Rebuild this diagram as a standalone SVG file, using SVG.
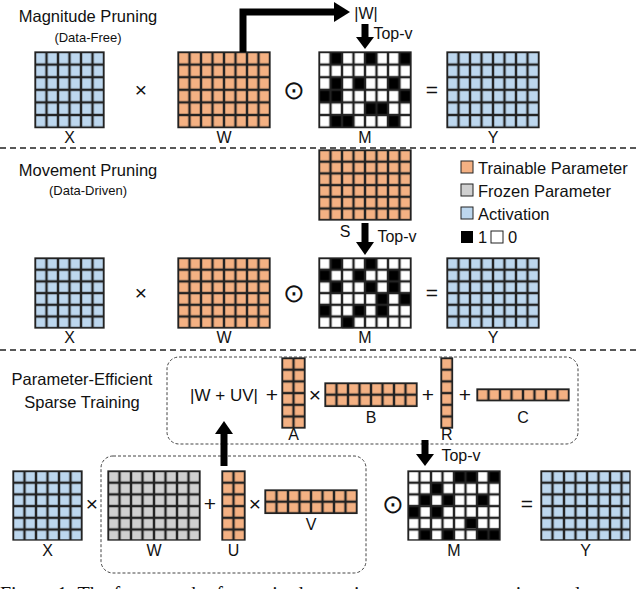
<svg xmlns="http://www.w3.org/2000/svg" width="640" height="589" viewBox="0 0 640 589">
<style>
text{font-family:"Liberation Sans",Arial,sans-serif;fill:#111}
.t{font-size:16.5px;text-anchor:middle}
.s{font-size:13px;text-anchor:middle}
.l{font-size:16px;text-anchor:middle}
.op{font-size:21px;text-anchor:middle}
.od{font-size:26px;text-anchor:middle}
.lg{font-size:16.5px}
.g{fill:none;stroke:#222;stroke-width:1.3}
.sep{stroke:#222;stroke-width:1.5;stroke-dasharray:6 4}
.box{fill:none;stroke:#444;stroke-width:1;stroke-dasharray:3 2}
.arr{stroke:#000;stroke-width:7;fill:none}
.b{fill:#bdd7ee}.o{fill:#f4b183}.y{fill:#d0d0d0}.w{fill:#fff}.k{fill:#000}
</style>
<defs>
<pattern id="p1" patternUnits="userSpaceOnUse" width="11.5" height="12.6"><rect width="11.5" height="12.6" fill="none" stroke="#222" stroke-width="2.4"/></pattern>
<pattern id="p2" patternUnits="userSpaceOnUse" width="11.5" height="11.7"><rect width="11.5" height="11.7" fill="none" stroke="#222" stroke-width="2.4"/></pattern>
</defs>
<g id="top">
<text class="t" x="88" y="22">Magnitude Pruning</text>
<text class="s" x="88" y="42">(Data-Free)</text>
<g id="X1" transform="translate(35,52)"><rect class="b" width="69" height="75.6"/><rect width="69" height="75.6" fill="url(#p1)"/><rect class="g" width="69" height="75.6"/><text class="l" x="34.5" y="91">X</text></g>
<text class="op" x="141" y="97">×</text>
<g id="W1" transform="translate(178,52)"><rect class="o" width="92" height="75.6"/><rect width="92" height="75.6" fill="url(#p1)"/><rect class="g" width="92" height="75.6"/><text class="l" x="46" y="91">W</text></g>
<text class="od" x="294" y="99">⊙</text>
<g id="M1" transform="translate(319,52)"><rect class="w" width="92" height="75.6"/>
<g class="k"><rect x="11.5" y="0" width="11.5" height="12.6"/><rect x="46" y="0" width="11.5" height="12.6"/><rect x="80.5" y="0" width="11.5" height="12.6"/>
<rect x="11.5" y="25.2" width="11.5" height="12.6"/><rect x="34.5" y="25.2" width="11.5" height="12.6"/><rect x="69" y="25.2" width="11.5" height="12.6"/>
<rect x="0" y="37.8" width="23" height="12.6"/><rect x="80.5" y="37.8" width="11.5" height="12.6"/>
<rect x="46" y="50.4" width="23" height="12.6"/>
<rect x="11.5" y="63" width="23" height="12.6"/><rect x="69" y="63" width="11.5" height="12.6"/></g>
<rect width="92" height="75.6" fill="url(#p1)"/><rect class="g" width="92" height="75.6"/><text class="l" x="46" y="91">M</text></g>
<text class="op" x="432" y="97">=</text>
<g id="Y1" transform="translate(447,52)"><rect class="b" width="92" height="75.6"/><rect width="92" height="75.6" fill="url(#p1)"/><rect class="g" width="92" height="75.6"/><text class="l" x="46" y="91">Y</text></g>
<text class="l" x="366" y="19">|W|</text>
<text class="l" x="393" y="39">Top-v</text>
</g>
<g id="mid">
<text class="t" x="88" y="176">Movement Pruning</text>
<text class="s" x="88" y="195">(Data-Driven)</text>
<g id="S" transform="translate(319,150)"><rect class="o" width="92" height="70"/><rect width="92" height="70" fill="url(#p2)"/><rect class="g" width="92" height="70"/></g>
<text class="l" x="345" y="237">S</text>
<text class="l" x="397" y="242">Top-v</text>
<g id="legend">
<rect class="o" x="461" y="161" width="12" height="12" stroke="#222"/><text class="lg" x="478" y="174">Trainable Parameter</text>
<rect class="y" x="461" y="184" width="12" height="12" stroke="#222"/><text class="lg" x="478" y="197">Frozen Parameter</text>
<rect class="b" x="461" y="207" width="12" height="12" stroke="#222"/><text class="lg" x="478" y="220">Activation</text>
<rect class="k" x="461" y="231" width="12" height="12"/><text class="lg" x="478" y="243">1</text>
<rect class="w" x="491" y="231" width="12" height="12" stroke="#222"/><text class="lg" x="508" y="243">0</text>
</g>
<g id="X2" transform="translate(35,258)"><rect class="b" width="69" height="70"/><rect width="69" height="70" fill="url(#p2)"/><rect class="g" width="69" height="70"/><text class="l" x="34.5" y="85">X</text></g>
<text class="op" x="141" y="300">×</text>
<g id="W2" transform="translate(178,258)"><rect class="o" width="92" height="70"/><rect width="92" height="70" fill="url(#p2)"/><rect class="g" width="92" height="70"/><text class="l" x="46" y="85">W</text></g>
<text class="od" x="294" y="302">⊙</text>
<g id="M2" transform="translate(319,258)"><rect class="w" width="92" height="70"/>
<g class="k"><rect x="11.5" y="0" width="11.5" height="11.7"/><rect x="46" y="0" width="11.5" height="11.7"/>
<rect x="0" y="11.7" width="11.5" height="11.7"/><rect x="34.5" y="11.7" width="11.5" height="11.7"/><rect x="69" y="11.7" width="11.5" height="11.7"/>
<rect x="11.5" y="23.4" width="11.5" height="11.7"/><rect x="46" y="23.4" width="11.5" height="11.7"/><rect x="69" y="23.4" width="11.5" height="11.7"/>
<rect x="57.5" y="35.1" width="11.5" height="11.7"/><rect x="80.5" y="35.1" width="11.5" height="11.7"/>
<rect x="0" y="46.8" width="11.5" height="11.7"/><rect x="34.5" y="46.8" width="11.5" height="11.7"/><rect x="57.5" y="46.8" width="11.5" height="11.7"/>
<rect x="23" y="58.5" width="11.5" height="11.7"/></g>
<rect width="92" height="70" fill="url(#p2)"/><rect class="g" width="92" height="70"/><text class="l" x="46" y="85">M</text></g>
<text class="op" x="432" y="300">=</text>
<g id="Y2" transform="translate(447,258)"><rect class="b" width="92" height="70"/><rect width="92" height="70" fill="url(#p2)"/><rect class="g" width="92" height="70"/><text class="l" x="46" y="85">Y</text></g>
</g>
<g id="bot">
<text class="t" x="82" y="385">Parameter-Efficient</text>
<text class="t" x="82" y="408">Sparse Training</text>
<rect class="box" x="167" y="357" width="411" height="87" rx="12"/>
<rect class="box" x="101" y="456" width="265" height="117" rx="12"/>
<text class="t" x="224" y="401" style="font-size:17px">|W + UV|</text>
<text class="op" x="272" y="402">+</text>
<g id="A" transform="translate(282,358)"><rect class="o" width="23" height="70"/><rect width="23" height="70" fill="url(#p2)"/><rect class="g" width="23" height="70"/><text class="l" x="11.5" y="82">A</text></g>
<text class="op" x="315" y="402">×</text>
<g id="B" transform="translate(325,383)"><rect class="o" width="92" height="23.4"/><rect width="92" height="23.4" fill="url(#p2)"/><rect class="g" width="92" height="23.4"/><text class="l" x="46" y="40">B</text></g>
<text class="op" x="428" y="402">+</text>
<g id="R" transform="translate(441,358)"><rect class="o" width="11.5" height="70"/><rect width="11.5" height="70" fill="url(#p2)"/><rect class="g" width="11.5" height="70"/><text class="l" x="5.75" y="82">R</text></g>
<text class="op" x="465" y="402">+</text>
<g id="C" transform="translate(477,389)"><rect class="o" width="92" height="11.7"/><rect width="92" height="11.7" fill="url(#p2)"/><rect class="g" width="92" height="11.7"/><text class="l" x="46" y="34">C</text></g>
<g id="X3" transform="translate(13,471)"><rect class="b" width="69" height="69"/><rect width="69" height="69" fill="url(#p2)"/><rect class="g" width="69" height="69"/><text class="l" x="34.5" y="85">X</text></g>
<text class="op" x="92" y="511">×</text>
<g id="W3" transform="translate(108,471)"><rect class="y" width="92" height="69"/><rect width="92" height="69" fill="url(#p2)"/><rect class="g" width="92" height="69"/><text class="l" x="46" y="85">W</text></g>
<text class="op" x="210" y="511">+</text>
<g id="U" transform="translate(222,471)"><rect class="o" width="23" height="69"/><rect width="23" height="69" fill="url(#p2)"/><rect class="g" width="23" height="69"/><text class="l" x="11.5" y="85">U</text></g>
<text class="op" x="255" y="511">×</text>
<g id="V" transform="translate(265,490)"><rect class="o" width="92" height="23.4"/><rect width="92" height="23.4" fill="url(#p2)"/><rect class="g" width="92" height="23.4"/><text class="l" x="46" y="40">V</text></g>
<text class="od" x="393" y="513">⊙</text>
<g id="M3" transform="translate(408,471)"><rect class="w" width="92" height="69"/>
<g class="k"><rect x="46" y="0" width="23" height="11.5"/><rect x="80.5" y="0" width="11.5" height="11.5"/>
<rect x="23" y="11.5" width="11.5" height="11.5"/>
<rect x="11.5" y="23" width="11.5" height="11.5"/><rect x="34.5" y="23" width="11.5" height="11.5"/><rect x="69" y="23" width="11.5" height="11.5"/>
<rect x="0" y="34.5" width="11.5" height="11.5"/><rect x="23" y="34.5" width="11.5" height="11.5"/>
<rect x="57.5" y="46" width="11.5" height="11.5"/>
<rect x="11.5" y="57.5" width="11.5" height="11.5"/><rect x="34.5" y="57.5" width="11.5" height="11.5"/><rect x="69" y="57.5" width="23" height="11.5"/></g>
<rect width="92" height="69" fill="url(#p2)"/><rect class="g" width="92" height="69"/><text class="l" x="46" y="85">M</text></g>
<text class="l" x="461" y="461">Top-v</text>
<text class="op" x="527" y="511">=</text>
<g id="Y3" transform="translate(541,471)"><rect class="b" width="89" height="69"/><rect width="89" height="69" fill="url(#p2)"/><rect class="g" width="89" height="69"/><text class="l" x="44.5" y="85">Y</text></g>
</g>
<g id="connectors">
<line class="sep" x1="0" y1="148" x2="640" y2="148"/>
<line class="sep" x1="0" y1="350" x2="640" y2="350"/>
<path class="arr" d="M243,52 V12 H336"/><polygon points="334,2 350,12 334,22"/>
<path class="arr" d="M365,24 V38"/><polygon points="356,37 374,37 365,49"/>
<path class="arr" d="M365,223 V243"/><polygon points="356,242 374,242 365,255"/>
<path class="arr" d="M224,466 V433"/><polygon points="215,434 233,434 224,421"/>
<path class="arr" d="M425,440 V455"/><polygon points="416,454 434,454 425,466"/>
</g>
<text x="0" y="601" style="font-family:'Liberation Serif',serif;font-size:20px">Figure 1:  The framework of magnitude pruning, movement pruning, and our</text>
</svg>
